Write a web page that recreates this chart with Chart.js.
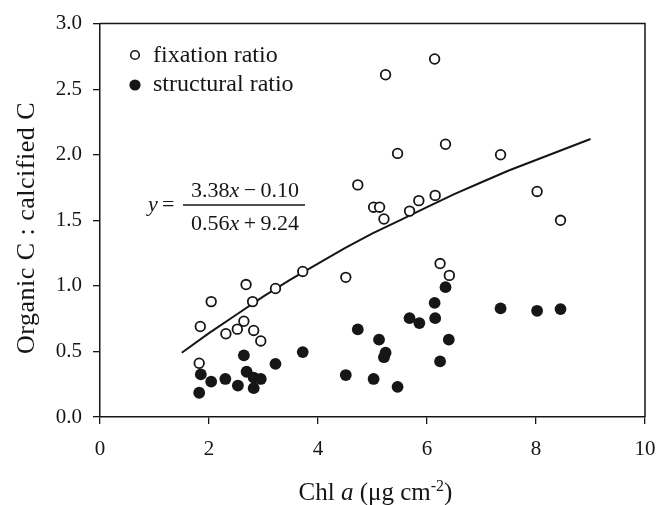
<!DOCTYPE html>
<html><head><meta charset="utf-8">
<script src="https://cdn.jsdelivr.net/npm/chart.js@4/dist/chart.umd.min.js"></script>
<style>html,body{margin:0;padding:0;background:#fff}</style>
</head><body>
<canvas id="c" width="659" height="505"></canvas>
<script>
// ---- data ----
const fixX = [1.82,1.84,2.04,2.31,2.52,2.64,2.68,2.80,2.82,2.95,3.22,3.72,4.51,4.73,5.02,5.13,5.21,5.24,5.46,5.68,5.85,6.14,6.15,6.24,6.34,6.41,7.35,8.02,8.45];
const fixY = [0.41,0.69,0.88,0.635,0.67,0.73,1.01,0.88,0.66,0.58,0.98,1.11,1.065,1.77,1.60,1.60,1.51,2.61,2.01,1.57,1.65,2.73,1.69,1.17,2.08,1.08,2.00,1.72,1.50];
const strX = [1.85,1.82,2.04,2.30,2.53,2.64,2.69,2.82,2.95,2.82,3.22,3.72,4.51,4.73,5.02,5.12,5.24,5.21,5.46,5.68,5.86,6.14,6.15,6.24,6.34,6.40,7.35,8.02,8.45];
const strY = [0.325,0.185,0.27,0.29,0.24,0.47,0.345,0.30,0.29,0.22,0.405,0.495,0.32,0.668,0.29,0.59,0.49,0.456,0.23,0.754,0.716,0.87,0.754,0.424,0.99,0.59,0.828,0.81,0.823];
const fitX = [1.5,2,2.5,3,3.5,4,4.5,5,5.5,6,6.5,7,7.5,8,8.5,9];
const fitY = [0.49,0.64,0.78,0.92,1.05,1.17,1.29,1.40,1.50,1.60,1.70,1.79,1.88,1.96,2.04,2.12];
const seriesNames = ['fixation ratio','structural ratio'];
const xTitle = [['Chl ',''],['a','italic'],[' (\u03BCg cm',''],['-2','sup'],[')','']];
const yTitle = 'Organic C : calcified C';
const eqNum = [['3.38',''],['x','italic'],['\u2009\u2212\u20090.10','']];
const eqDen = [['0.56',''],['x','italic'],['\u2009+\u20099.24','']];

const pts = (xs, ys) => xs.map((x, i) => ({x, y: ys[i]}));
const INK = '#161616';
const SERIF = '"Liberation Serif","DejaVu Serif",serif';

function fontFor(st, size) {
  return st === 'sup' ? `${Math.round(size*0.62)}px ${SERIF}` : `${st === 'italic' ? 'italic ' : ''}${size}px ${SERIF}`;
}
function runs(ctx, list, x, y, size) {
  let cx = x;
  for (const [t, st] of list) {
    ctx.font = fontFor(st, size);
    ctx.fillText(t, cx, st === 'sup' ? y - size*0.38 : y);
    cx += ctx.measureText(t).width;
  }
  return cx - x;
}
function runsWidth(ctx, list, size) {
  let w = 0;
  for (const [t, st] of list) { ctx.font = fontFor(st, size); w += ctx.measureText(t).width; }
  return w;
}

const decor = {
  id: 'decor',
  afterDatasetsDraw(chart) {
    const {ctx, chartArea: a} = chart;
    ctx.save();
    // frame top and right
    ctx.strokeStyle = INK; ctx.lineWidth = 1.5;
    ctx.beginPath();
    ctx.moveTo(a.left, a.top); ctx.lineTo(a.right, a.top); ctx.lineTo(a.right, a.bottom);
    ctx.stroke();
    ctx.fillStyle = INK; ctx.textBaseline = 'alphabetic'; ctx.textAlign = 'left';
    // legend
    ctx.beginPath(); ctx.arc(135, 55, 4.3, 0, Math.PI*2);
    ctx.fillStyle = '#fff'; ctx.fill(); ctx.lineWidth = 1.6; ctx.stroke();
    ctx.beginPath(); ctx.arc(135, 85, 5.6, 0, Math.PI*2);
    ctx.fillStyle = INK; ctx.fill();
    ctx.font = `24px ${SERIF}`;
    ctx.fillText(seriesNames[0], 153, 62);
    ctx.fillText(seriesNames[1], 153, 91);
    // equation
    const es = 22;
    ctx.font = `italic ${es}px ${SERIF}`;
    ctx.fillText('y', 148, 211);
    ctx.font = `${es}px ${SERIF}`;
    ctx.fillText('=', 162, 211);
    const barL = 183, barR = 305;
    ctx.lineWidth = 1.3;
    ctx.beginPath(); ctx.moveTo(barL, 205); ctx.lineTo(barR, 205); ctx.stroke();
    const wn = runsWidth(ctx, eqNum, es), wd = runsWidth(ctx, eqDen, es);
    runs(ctx, eqNum, (barL+barR)/2 + 1 - wn/2, 197, es);
    runs(ctx, eqDen, (barL+barR)/2 + 1 - wd/2, 230, es);
    // x title
    const ts = 25;
    const wx = runsWidth(ctx, xTitle, ts);
    runs(ctx, xTitle, (a.left + a.right)/2 + 3 - wx/2, 500, ts);
    // y title
    ctx.save();
    ctx.translate(34, 228);
    ctx.rotate(-Math.PI/2);
    ctx.font = `26px ${SERIF}`;
    try { ctx.letterSpacing = '0.5px'; } catch (e) {}
    ctx.textAlign = 'center';
    ctx.fillText(yTitle, 0, 0);
    ctx.restore();
    ctx.restore();
  }
};

new Chart(document.getElementById('c').getContext('2d'), {
  type: 'scatter',
  data: {
    datasets: [
      { label: seriesNames[0], data: pts(fixX, fixY), pointRadius: 4.8, pointHoverRadius: 4.8,
        pointBorderWidth: 1.8, borderColor: INK, backgroundColor: '#fff', pointBackgroundColor: '#fff', pointBorderColor: INK },
      { label: seriesNames[1], data: pts(strX, strY), pointRadius: 5.9, pointHoverRadius: 5.9,
        pointBorderWidth: 0, borderColor: INK, backgroundColor: INK, pointBackgroundColor: INK },
      { label: 'fit', type: 'line', data: pts(fitX, fitY), showLine: true, borderColor: INK,
        borderWidth: 2, pointRadius: 0, tension: 0, fill: false }
    ]
  },
  options: {
    responsive: false, animation: false, devicePixelRatio: 1,
    layout: { padding: { top: 23, right: 0, left: 0, bottom: 0 } },
    plugins: { legend: { display: false }, tooltip: { enabled: false } },
    scales: {
      x: {
        type: 'linear', min: 0, max: 10,
        afterFit: s => { s.height = 88; s.paddingRight = 14; s.paddingLeft = 0; },
        ticks: { stepSize: 2, color: INK, padding: 13, font: { family: SERIF, size: 21 } },
        grid: { drawOnChartArea: false, drawTicks: true, tickLength: 7, color: INK, lineWidth: 1.3 },
        border: { display: true, color: INK, width: 1.5 }
      },
      y: {
        type: 'linear', min: 0, max: 3,
        afterFit: s => { s.width = 100; },
        ticks: { stepSize: 0.5, color: INK, padding: 11, font: { family: SERIF, size: 21 },
                 callback: v => Number(v).toFixed(1) },
        grid: { drawOnChartArea: false, drawTicks: true, tickLength: 7, color: INK, lineWidth: 1.3 },
        border: { display: true, color: INK, width: 1.5 }
      }
    }
  },
  plugins: [decor]
});
</script>
</body></html>
